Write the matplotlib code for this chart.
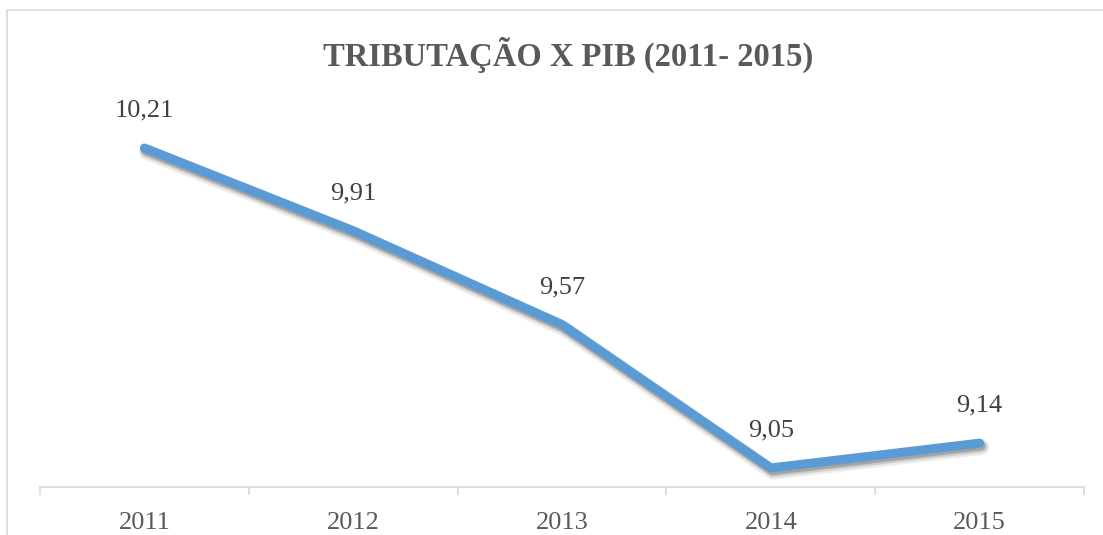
import matplotlib
matplotlib.use("Agg")
import matplotlib.pyplot as plt
import matplotlib.patheffects as pe
from matplotlib.patches import Rectangle
from matplotlib.ticker import FixedLocator

years = ["2011", "2012", "2013", "2014", "2015"]
values = [10.21, 9.91, 9.57, 9.05, 9.14]
labels = ["10,21", "9,91", "9,57", "9,05", "9,14"]
title = "TRIBUTAÇÃO X PIB (2011- 2015)"

W, H, DPI = 1103, 535, 100
fig = plt.figure(figsize=(W / DPI, H / DPI), dpi=DPI)
fig.patch.set_facecolor("white")

# outer chart border (light gray)
fig.patches.append(Rectangle((7 / W, -0.05), 1.2, 1 - 10 / H + 0.05,
                             transform=fig.transFigure, fill=False,
                             edgecolor="#D9D9D9", linewidth=1.2))

left, right, top, bottom = 40, 1084, 100, 487
ax = fig.add_axes([left / W, 1 - bottom / H, (right - left) / W, (bottom - top) / H])
ax.set_facecolor("none")

x = list(range(len(years)))
ax.plot(x, values, color="#5B9BD5", linewidth=6.5, solid_capstyle="round",
        solid_joinstyle="round",
        path_effects=[pe.SimpleLineShadow(offset=(1.5, -3), shadow_color="black", alpha=0.08, linewidth=11),
                      pe.SimpleLineShadow(offset=(1.5, -2.5), shadow_color="black", alpha=0.12, linewidth=8.5),
                      pe.SimpleLineShadow(offset=(1, -2), shadow_color="black", alpha=0.2, linewidth=6.5),
                      pe.Normal()])

for xi, v, lab in zip(x, values, labels):
    ax.annotate(lab, (xi, v), xytext=(0, 27), textcoords="offset points",
                ha="center", va="center", fontsize=19, color="#404040",
                family="Liberation Serif")

ax.set_xlim(-0.5, len(years) - 0.5)
ax.set_ylim(8.981, 10.384)

for s in ["left", "right", "top"]:
    ax.spines[s].set_visible(False)
ax.spines["bottom"].set_color("#D9D9D9")
ax.spines["bottom"].set_linewidth(1.2)
ax.set_yticks([])

ax.set_xticks(x)
ax.set_xticklabels(years, fontsize=19, color="#595959", family="Liberation Serif")
ax.tick_params(axis="x", which="major", length=0, pad=18)
ax.xaxis.set_minor_locator(FixedLocator([i - 0.5 for i in range(len(years) + 1)]))
ax.tick_params(axis="x", which="minor", length=6, width=1.2, color="#D9D9D9", direction="out")

fig.text(0.515, 1 - 55 / H, title, ha="center", va="center", fontsize=23.5,
         fontweight="bold", color="#595959", family="Liberation Serif")

fig.savefig("out.png", dpi=DPI)
